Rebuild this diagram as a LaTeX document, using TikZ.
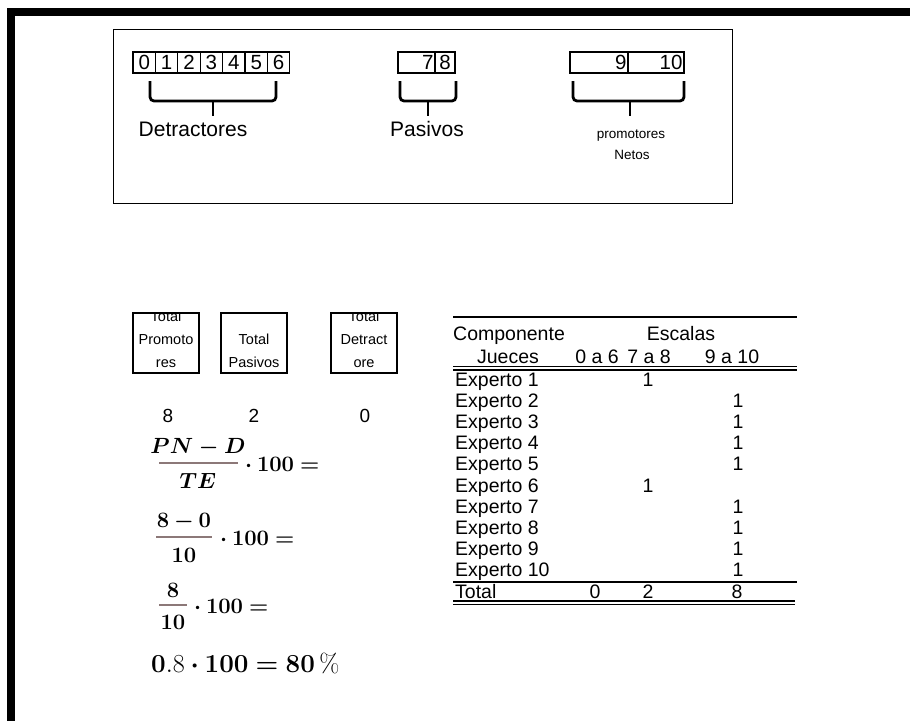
\RequirePackage{fix-cm}
\documentclass[tikz,border=0pt]{standalone}
\usepackage[no-math]{fontspec}
\setmainfont{Liberation Sans}
\usepackage{amsmath}
\usepackage{tikz}
\usetikzlibrary{positioning}
\definecolor{barcolor}{RGB}{140,120,120}

\begin{document}
\begin{tikzpicture}[
    x=1pt, y=-1pt,
    cell/.style={draw, line width=1.3pt, minimum height=21pt, inner sep=0pt, font=\fontsize{20.5}{20}\selectfont},
    bracket/.style={line width=2.8pt, rounded corners=4pt},
    grptext/.style={anchor=base, inner sep=0pt, font=\fontsize{21}{24}\selectfont},
    smalltext/.style={anchor=base, inner sep=0pt, font=\fontsize{13.5}{16}\selectfont},
    totbox/.style={draw, line width=1.6pt, minimum width=66pt, minimum height=60pt, inner sep=0pt},
    boxtext/.style={inner sep=0pt, align=center, font=\fontsize{14.5}{23}\selectfont},
    tally/.style={inner sep=0pt, font=\fontsize{19}{19}\selectfont},
    mathtext/.style={inner sep=0pt, font=\fontsize{22}{26}\selectfont},
    fracbar/.style={draw=barcolor, line width=1.3pt},
    tabtext/.style={anchor=base west, inner sep=0pt, font=\fontsize{19.5}{19}\selectfont},
    tabnum/.style={anchor=base, inner sep=0pt, font=\fontsize{19.5}{19}\selectfont}
]
    \useasboundingbox (0,0) rectangle (910,720);
    \clip (0,0) rectangle (910,720);
    \draw[line width=8pt] (11,12) rectangle (960,730);

    % Scale
    \draw[line width=1pt] (113,29) rectangle (732,203);
    \foreach \d in {0,...,6}
        \node[cell, minimum width=22.4pt] (c\d) at ({144.2+22.4*\d},62.5) {\d};
    \node[cell, minimum width=37pt, text width=34pt, align=right] (c7) at (416.5,62.5) {7};
    \node[cell, minimum width=20pt] (c8) at (445,62.5) {8};
    \node[cell, minimum width=58pt, text width=55pt, align=right] (c9) at (599,62.5) {9};
    \node[cell, minimum width=56pt, text width=53pt, align=right] (c10) at (656,62.5) {10};

    \draw[bracket] (150,81) -- (150,101) -- (276,101) -- (276,81);
    \draw[bracket] (213,101) -- (213,116);
    \draw[bracket] (400,81) -- (400,101) -- (456,101) -- (456,81);
    \draw[bracket] (428,101) -- (428,116);
    \draw[bracket] (573,81) -- (573,101) -- (684,101) -- (684,81);
    \draw[bracket] (630,101) -- (630,116);

    \node[grptext] (det) at (193,136.5) {Detractores};
    \node[grptext] (pas) at (427,136.5) {Pasivos};
    \node[smalltext] (prom) at (631,138) {promotores};
    \node[smalltext] (net) at (632,159) {Netos};

    % Totals
    \node[totbox] (tprom) at (166,343) {};
    \node[totbox] (tpas) at (254,343) {};
    \node[totbox] (tdet) at (364,343) {};
    \begin{scope}
        \clip (tprom.south west) rectangle (tprom.north east);
        \node[boxtext] at (166,339) {Total\\Promoto\\res};
    \end{scope}
    \node[boxtext] at (254,350.5) {Total\\Pasivos};
    \begin{scope}
        \clip (tdet.south west) rectangle (tdet.north east);
        \node[boxtext] at (364,339) {Total\\Detract\\ore};
    \end{scope}
    \node[tally] (nprom) at (168,416) {8};
    \node[tally] (npas) at (254,416) {2};
    \node[tally] (ndet) at (365,416) {0};

    % Formula
    \node[mathtext] (num1) at (198,447) {$\boldsymbol{PN-D}$};
    \node[mathtext] (den1) at (198,481) {$\boldsymbol{TE}$};
    \draw[fracbar] (159,463) -- (238,463);
    \node[mathtext, anchor=west] (res1) at (240,464) {${}\boldsymbol{\cdot}\mathbf{100}\boldsymbol{=}{}$};

    \node[mathtext] (num2) at (184,522) {$\mathbf{8}\boldsymbol{-}\mathbf{0}$};
    \node[mathtext] (den2) at (184,555) {$\mathbf{10}$};
    \draw[fracbar] (156,537) -- (212,537);
    \node[mathtext, anchor=west] (res2) at (215,538) {${}\boldsymbol{\cdot}\mathbf{100}\boldsymbol{=}{}$};

    \node[mathtext] (num3) at (173,590) {$\mathbf{8}$};
    \node[mathtext] (den3) at (173,622) {$\mathbf{10}$};
    \draw[fracbar] (159,605) -- (187,605);
    \node[mathtext, anchor=west] (res3) at (189,606) {${}\boldsymbol{\cdot}\mathbf{100}\boldsymbol{=}{}$};

    \node[mathtext, anchor=west, font=\fontsize{26}{30}\selectfont] (res4) at (151,663)
        {$\mathbf{0.}\mbox{\fontfamily{lmr}\selectfont 8}\boldsymbol{\cdot}\mathbf{100}\boldsymbol{=}\mathbf{80\,\%}$};

    % Table
    \draw[line width=1.8pt] (453,317) -- (797,317);
    \begin{scope}
        \clip (453,320) rectangle (570,350);
        \node[tabtext] (comp) at (453,340) {Componente};
    \end{scope}
    \node[tabnum] (esc) at (681,340) {Escalas};
    \node[tabnum] (jue) at (508,363) {Jueces};
    \node[tabnum] (s1) at (597,363) {0 a 6};
    \node[tabnum] (s2) at (649,363) {7 a 8};
    \node[tabnum] (s3) at (732,363) {9 a 10};
    \draw[line width=1.2pt] (453,366.5) -- (797,366.5);
    \draw[line width=1.2pt] (453,370) -- (797,370);
    \foreach \k/\c in {1/648, 2/738, 3/738, 4/738, 5/738, 6/648, 7/738, 8/738, 9/738, 10/738} {
        \node[tabtext] (e\k) at (455,{386+21.2*(\k-1)}) {Experto \k};
        \node[tabnum] (v\k) at (\c,{386+21.2*(\k-1)}) {1};
    }
    \draw[line width=1.6pt] (453,582) -- (797,582);
    \node[tabtext] (tot) at (455,598) {Total};
    \node[tabnum] (t1) at (595,598) {0};
    \node[tabnum] (t2) at (648,598) {2};
    \node[tabnum] (t3) at (737,598) {8};
    \draw[line width=1.2pt] (453,601) -- (795,601);
    \draw[line width=1.2pt] (453,604.5) -- (795,604.5);
\end{tikzpicture}
\end{document}
